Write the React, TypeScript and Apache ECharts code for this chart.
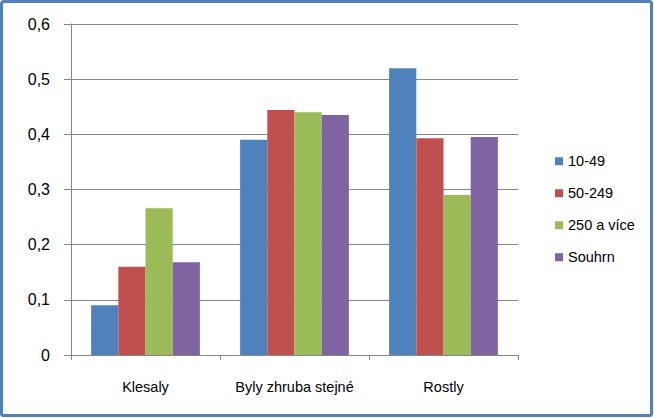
import React, { useEffect, useRef } from "react";
import * as echarts from "echarts";

const categories = ["Klesaly", "Byly zhruba stejné", "Rostly"];
const seriesNames = ["10-49", "50-249", "250 a více", "Souhrn"];
const values10_49 = [0.09, 0.39, 0.52];
const values50_249 = [0.16, 0.444, 0.393];
const values250 = [0.266, 0.44, 0.29];
const valuesSouhrn = [0.168, 0.435, 0.395];
const colors = ["#4F81BD", "#C0504D", "#9BBB59", "#8064A2"];
const yTicks = { min: 0, max: 0.6, interval: 0.1 };

export default function App() {
  const ref = useRef<HTMLDivElement>(null);
  useEffect(() => {
    document.body.style.margin = "0";
    const chart = echarts.init(ref.current!, null, { renderer: "svg" });
    const allValues = [values10_49, values50_249, values250, valuesSouhrn];
    const font = "'Liberation Sans', Arial, sans-serif";
    chart.setOption({
      animation: false,
      backgroundColor: "#FFFFFF",
      graphic: [
        {
          type: "rect",
          shape: { x: 1.5, y: 1.5, width: 650, height: 414, r: 2 },
          style: { fill: "none", stroke: "#4F81BD", lineWidth: 3 },
          silent: true,
        },
      ],
      grid: { left: 71, right: 136, top: 24, bottom: 63 },
      legend: {
        orient: "vertical",
        left: 550,
        top: 148,
        itemWidth: 8,
        itemHeight: 8,
        itemGap: 15.5,
        icon: "rect",
        data: seriesNames,
        textStyle: { fontFamily: font, fontSize: 14.5, color: "#000", lineHeight: 16.5 },
      },
      xAxis: {
        type: "category",
        data: categories,
        axisLine: { lineStyle: { color: "#868686", width: 1 } },
        axisTick: { show: true, length: 5, lineStyle: { color: "#868686" } },
        axisLabel: { fontFamily: font, fontSize: 14.5, color: "#000", margin: 24, interval: 0 },
      },
      yAxis: {
        type: "value",
        min: yTicks.min,
        max: yTicks.max,
        interval: yTicks.interval,
        axisLine: { show: true, lineStyle: { color: "#868686", width: 1 } },
        axisTick: { show: true, inside: false, length: 7, lineStyle: { color: "#868686" } },
        splitLine: { lineStyle: { color: "#868686", width: 1 } },
        axisLabel: {
          fontFamily: font,
          fontSize: 16,
          color: "#000",
          margin: 21,
          formatter: (v: number) => String(Math.round(v * 10) / 10).replace(".", ","),
        },
      },
      series: seriesNames.map((name, i) => ({
        name,
        type: "bar",
        data: allValues[i],
        barGap: "0%",
        barCategoryGap: "27%",
        itemStyle: { color: colors[i] },
      })),
    });
    return () => chart.dispose();
  }, []);
  return <div ref={ref} style={{ width: 654, height: 418 }} />;
}
